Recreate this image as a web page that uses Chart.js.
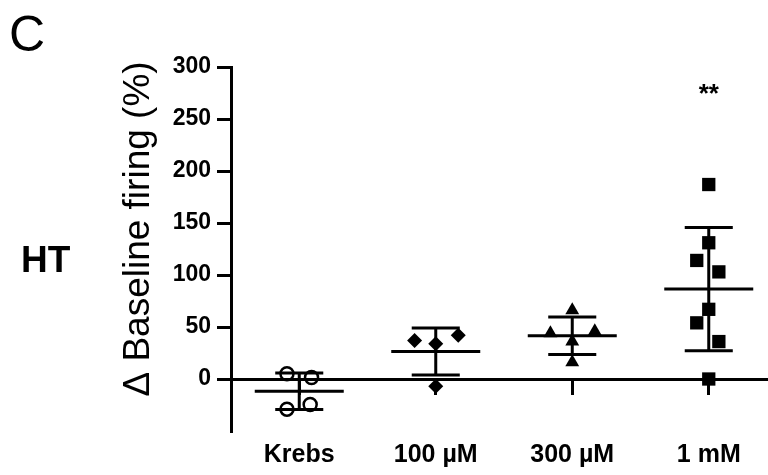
<!DOCTYPE html>
<html><head><meta charset="utf-8">
<script src="https://cdn.jsdelivr.net/npm/chart.js@4.4.1/dist/chart.umd.min.js"></script>
<style>html,body{margin:0;padding:0;background:#fff}#wrap{width:768px;height:475px;position:relative}</style>
</head><body><div id="wrap"><canvas id="c"></canvas></div>
<script>
// ---- data ----
const categories = ['Krebs', '100 µM', '300 µM', '1 mM'];
const krebs = [5, 1.5, -29, -24.5];
const um100 = [37, 34, 42, -7];
const um300 = [66, 44, 46, 36, 16];
const mm1 = [187, 131, 114, 103, 67, 54, 36, 0];
const krebsJitter = [-0.09, 0.09, -0.09, 0.08];
const um100Jitter = [-0.155, 0, 0.165, 0];
const um300Jitter = [0, -0.16, 0.165, 0, 0];
const mm1Jitter = [0, 0, -0.088, 0.074, 0, -0.088, 0.074, 0];
const yTicks = [0, 50, 100, 150, 200, 250, 300];
const significance = ['', '', '', '**'];
const sigY = 266;
const yTitle = 'Δ Baseline firing (%)';
const panelLabel = 'C';
const rowLabel = 'HT';

const groups = [krebs, um100, um300, mm1];
const jitters = [krebsJitter, um100Jitter, um300Jitter, mm1Jitter];

function mean(a){return a.reduce((s,v)=>s+v,0)/a.length;}
function sd(a){const m=mean(a);return Math.sqrt(a.reduce((s,v)=>s+(v-m)*(v-m),0)/(a.length-1));}

const MEAN_HALF = 0.326, CAP_HALF = 0.176;
const lineData = [];
groups.forEach((g,i)=>{
  const m = mean(g), s = sd(g);
  lineData.push({x:i-MEAN_HALF,y:m},{x:i+MEAN_HALF,y:m},{x:i,y:null});
  lineData.push({x:i-CAP_HALF,y:m+s},{x:i+CAP_HALF,y:m+s},{x:i,y:null});
  lineData.push({x:i-CAP_HALF,y:m-s},{x:i+CAP_HALF,y:m-s},{x:i,y:null});
  lineData.push({x:i,y:m+s},{x:i,y:m-s},{x:i,y:null});
});

function pts(i){return groups[i].map((v,k)=>({x:i+jitters[i][k],y:v}));}

const styles = [
  {pointStyle:'circle', pointRadius:6.5, pointBorderWidth:2.5, pointBackgroundColor:'rgba(0,0,0,0)'},
  {pointStyle:'rectRot', pointRadius:7.5, pointBorderWidth:0, pointBackgroundColor:'#000'},
  {pointStyle:'triangle', pointRadius:8, pointBorderWidth:0, pointBackgroundColor:'#000'},
  {pointStyle:'rect', pointRadius:9.4, pointBorderWidth:0, pointBackgroundColor:'#000'}
];

const datasets = groups.map((g,i)=>Object.assign({
  type:'scatter', label:categories[i], data:pts(i), pointBorderColor:'#000', showLine:false
}, styles[i]));
datasets.push({type:'line', label:'stats', data:lineData, borderColor:'#000', borderWidth:3,
  pointRadius:0, spanGaps:false, borderCapStyle:'butt', fill:false});

const textPlugin = {
  id:'texts',
  afterDraw(chart){
    const ctx = chart.ctx, xs = chart.scales.x, ys = chart.scales.y;
    ctx.save();
    ctx.fillStyle = '#000';
    ctx.font = '50px "Liberation Sans", Arial, sans-serif';
    ctx.textAlign = 'left'; ctx.textBaseline = 'alphabetic';
    ctx.fillText(panelLabel, 9, 51);
    ctx.font = 'bold 37px "Liberation Sans", Arial, sans-serif';
    ctx.fillText(rowLabel, 21, 272);
    ctx.save();
    ctx.translate(149, 229);
    ctx.rotate(-Math.PI/2);
    ctx.font = '37px "Liberation Sans", Arial, sans-serif';
    ctx.textAlign = 'center';
    ctx.fillText(yTitle, 0, 0);
    ctx.restore();
    ctx.font = 'bold 26px "Liberation Sans", Arial, sans-serif';
    ctx.textAlign = 'center';
    significance.forEach((t,i)=>{ if(t) ctx.fillText(t, xs.getPixelForValue(i), ys.getPixelForValue(sigY)); });
    ctx.restore();
  }
};

const catTicks = s => { s.ticks = categories.map((c,i)=>({value:i})); };

new Chart(document.getElementById('c'), {
  type:'scatter',
  data:{datasets},
  options:{
    responsive:true, maintainAspectRatio:false, animation:false,
    layout:{autoPadding:false, padding:{top:67, right:0, bottom:0, left:0}},
    plugins:{legend:{display:false}, tooltip:{enabled:false}},
    scales:{
      x:{type:'linear', min:-0.5, max:3.434, position:{y:0},
        afterBuildTicks: catTicks,
        border:{display:true, color:'#000', width:3},
        grid:{display:true, drawOnChartArea:false, drawTicks:true, tickLength:14, tickWidth:3, tickColor:'#000', color:'#000', lineWidth:3},
        ticks:{display:false}
      },
      x2:{type:'linear', min:-0.5, max:3.434, position:'bottom',
        afterBuildTicks: catTicks,
        afterFit: s => { s.height = 44; },
        border:{display:false}, grid:{display:false},
        ticks:{color:'#000', padding:1, maxRotation:0, autoSkip:false,
          font:{family:'"Liberation Sans", Arial, sans-serif', size:25, weight:'bold'},
          callback:(v)=>categories[v]}
      },
      y:{type:'linear', min:-50, max:300, position:'left',
        afterBuildTicks: s => { s.ticks = yTicks.map(v=>({value:v})); },
        afterFit: s => { s.width = 231; },
        border:{display:true, color:'#000', width:3},
        grid:{display:true, drawOnChartArea:false, drawTicks:true, tickLength:14, tickWidth:3, tickColor:'#000', color:'#000', lineWidth:3},
        ticks:{color:'#000', padding:6,
          font:{family:'"Liberation Sans", Arial, sans-serif', size:23, weight:'bold'}}
      }
    }
  },
  plugins:[textPlugin]
});
</script></body></html>
